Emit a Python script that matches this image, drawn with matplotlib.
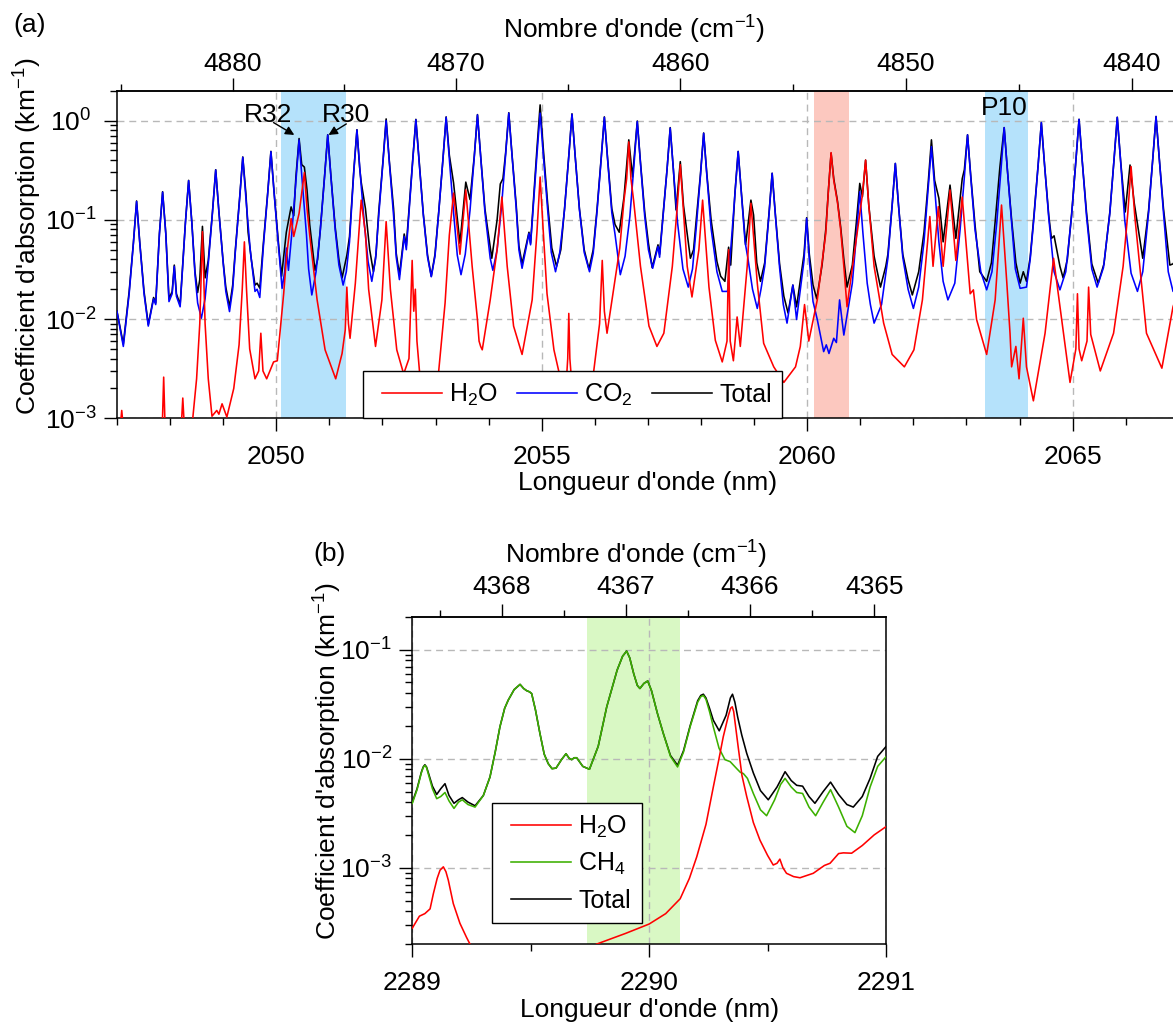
import numpy as np
import matplotlib
matplotlib.use("Agg")
import matplotlib.pyplot as plt
from matplotlib.ticker import FixedLocator, NullFormatter, LogLocator, FormatStrFormatter
from matplotlib.legend_handler import HandlerLine2D

plt.rcParams['font.family'] = ['Liberation Sans', 'DejaVu Sans']
plt.rcParams['mathtext.fontset'] = 'custom'
plt.rcParams['mathtext.rm'] = 'Liberation Sans'
plt.rcParams['mathtext.it'] = 'Liberation Sans:italic'
plt.rcParams['mathtext.bf'] = 'Liberation Sans:bold'
plt.rcParams['mathtext.default'] = 'regular'
plt.rcParams['font.size'] = 19
plt.rcParams['axes.linewidth'] = 1.1

# ---------------- panel (a): 2047-2067 nm, (wavelength nm, km-1) ----------------
h2o_a = [
    (2047.00, 0.0006), (2047.06, 0.0008), (2047.09, 0.0012), (2047.12, 0.0008), (2047.20, 0.0005),
    (2047.60, 0.0004), (2047.85, 0.0007), (2047.88, 0.0026), (2047.91, 0.0007), (2048.10, 0.0005),
    (2048.21, 0.0008), (2048.24, 0.0016), (2048.27, 0.0008), (2048.40, 0.0007), (2048.50, 0.0025),
    (2048.56, 0.009), (2048.61, 0.076), (2048.66, 0.009), (2048.72, 0.0025), (2048.79, 0.00105),
    (2048.88, 0.0012), (2048.92, 0.0011), (2048.98, 0.0014), (2049.07, 0.00103), (2049.20, 0.002),
    (2049.30, 0.0055), (2049.36, 0.02), (2049.40, 0.06), (2049.44, 0.02), (2049.50, 0.005),
    (2049.60, 0.0025), (2049.67, 0.003), (2049.71, 0.0072), (2049.75, 0.003), (2049.82, 0.0025),
    (2049.95, 0.0037), (2050.02, 0.0038), (2050.14, 0.018), (2050.20, 0.046), (2050.28, 0.103),
    (2050.33, 0.068), (2050.43, 0.116), (2050.53, 0.30), (2050.58, 0.13), (2050.63, 0.07),
    (2050.77, 0.0156), (2050.92, 0.0049), (2051.12, 0.0025), (2051.24, 0.0045), (2051.30, 0.0078),
    (2051.33, 0.021), (2051.36, 0.009), (2051.39, 0.0064), (2051.49, 0.023), (2051.60, 0.158),
    (2051.68, 0.073), (2051.74, 0.02), (2051.87, 0.0053), (2051.99, 0.0156), (2052.07, 0.096),
    (2052.15, 0.02), (2052.27, 0.0049), (2052.40, 0.0028), (2052.50, 0.004), (2052.56, 0.039),
    (2052.59, 0.012), (2052.62, 0.02), (2052.65, 0.006), (2052.71, 0.0025), (2052.90, 0.0018),
    (2053.06, 0.003), (2053.18, 0.0145), (2053.26, 0.07), (2053.34, 0.186), (2053.46, 0.045),
    (2053.57, 0.2), (2053.69, 0.034), (2053.79, 0.0098), (2053.82, 0.006), (2053.85, 0.0053),
    (2053.88, 0.0049), (2054.03, 0.0156), (2054.16, 0.05), (2054.25, 0.17), (2054.35, 0.034),
    (2054.47, 0.0085), (2054.63, 0.0044), (2054.82, 0.0156), (2054.91, 0.075), (2054.97, 0.27),
    (2055.03, 0.075), (2055.10, 0.018), (2055.23, 0.0049), (2055.32, 0.003), (2055.46, 0.0022),
    (2055.49, 0.004), (2055.51, 0.0114), (2055.53, 0.004), (2055.58, 0.0018), (2055.75, 0.0013),
    (2055.98, 0.003), (2056.09, 0.009), (2056.14, 0.039), (2056.18, 0.012), (2056.23, 0.0072),
    (2056.36, 0.021), (2056.47, 0.052), (2056.55, 0.158), (2056.60, 0.26), (2056.64, 0.61),
    (2056.68, 0.26), (2056.73, 0.158), (2056.86, 0.034), (2057.02, 0.0085), (2057.17, 0.0053),
    (2057.30, 0.0072), (2057.46, 0.034), (2057.55, 0.13), (2057.61, 0.36), (2057.67, 0.12),
    (2057.74, 0.034), (2057.83, 0.0167), (2057.96, 0.05), (2058.03, 0.158), (2058.15, 0.021),
    (2058.27, 0.0061), (2058.40, 0.0037), (2058.49, 0.006), (2058.52, 0.05), (2058.55, 0.006),
    (2058.61, 0.0038), (2058.68, 0.0105), (2058.74, 0.0053), (2058.87, 0.034), (2058.94, 0.147),
    (2059.06, 0.023), (2059.18, 0.0057), (2059.37, 0.0033), (2059.56, 0.0023), (2059.78, 0.0033),
    (2059.87, 0.0053), (2059.95, 0.014), (2060.03, 0.006), (2060.19, 0.0156), (2060.35, 0.073),
    (2060.40, 0.2), (2060.45, 0.476), (2060.50, 0.25), (2060.57, 0.15), (2060.63, 0.08),
    (2060.69, 0.034), (2060.75, 0.0133), (2060.94, 0.073), (2061.04, 0.18), (2061.10, 0.40),
    (2061.16, 0.14), (2061.26, 0.034), (2061.44, 0.0091), (2061.60, 0.0044), (2061.83, 0.0033),
    (2062.01, 0.0049), (2062.17, 0.0156), (2062.31, 0.108), (2062.37, 0.034), (2062.47, 0.136),
    (2062.56, 0.034), (2062.69, 0.2), (2062.80, 0.039), (2062.92, 0.17), (2063.07, 0.018),
    (2063.13, 0.0197), (2063.19, 0.0099), (2063.38, 0.0044), (2063.54, 0.0156), (2063.66, 0.141),
    (2063.76, 0.023), (2063.82, 0.0072), (2063.85, 0.0033), (2063.93, 0.0053), (2063.99, 0.0025),
    (2064.07, 0.0102), (2064.13, 0.0033), (2064.26, 0.0015), (2064.48, 0.0072), (2064.64, 0.041),
    (2064.77, 0.0123), (2064.95, 0.0023), (2065.06, 0.005), (2065.09, 0.018), (2065.12, 0.005),
    (2065.17, 0.0038), (2065.27, 0.006), (2065.30, 0.021), (2065.34, 0.007), (2065.52, 0.003),
    (2065.77, 0.0072), (2065.95, 0.034), (2066.04, 0.12), (2066.10, 0.344), (2066.17, 0.108),
    (2066.39, 0.0072), (2066.68, 0.0032), (2066.89, 0.0133), (2067.00, 0.02),
]

co2_a = [
    (2047.00, 0.012), (2047.12, 0.0053), (2047.23, 0.018), (2047.31, 0.058), (2047.37, 0.153),
    (2047.43, 0.058), (2047.51, 0.018), (2047.59, 0.0085), (2047.69, 0.016), (2047.73, 0.014),
    (2047.80, 0.072), (2047.86, 0.19), (2047.92, 0.072), (2047.98, 0.015), (2048.04, 0.018),
    (2048.08, 0.034), (2048.12, 0.017), (2048.19, 0.0133), (2048.29, 0.094), (2048.35, 0.248),
    (2048.41, 0.094), (2048.47, 0.028), (2048.52, 0.0145), (2048.59, 0.0102), (2048.66, 0.016),
    (2048.72, 0.036), (2048.80, 0.12), (2048.86, 0.318), (2048.92, 0.12), (2049.00, 0.037),
    (2049.05, 0.019), (2049.12, 0.0119), (2049.18, 0.02), (2049.23, 0.048), (2049.31, 0.162),
    (2049.37, 0.427), (2049.43, 0.162), (2049.51, 0.05), (2049.60, 0.019), (2049.64, 0.020),
    (2049.69, 0.0165), (2049.76, 0.056), (2049.84, 0.185), (2049.90, 0.487), (2049.96, 0.185),
    (2050.04, 0.056), (2050.11, 0.0204), (2050.16, 0.03), (2050.19, 0.052), (2050.23, 0.031),
    (2050.29, 0.07), (2050.37, 0.242), (2050.43, 0.638), (2050.49, 0.242), (2050.57, 0.07),
    (2050.61, 0.032), (2050.67, 0.0175), (2050.75, 0.03), (2050.83, 0.078), (2050.91, 0.27),
    (2050.97, 0.717), (2051.03, 0.27), (2051.11, 0.08), (2051.18, 0.035), (2051.26, 0.022),
    (2051.32, 0.03), (2051.38, 0.06), (2051.46, 0.3), (2051.52, 0.805), (2051.58, 0.3),
    (2051.66, 0.09), (2051.73, 0.038), (2051.80, 0.024), (2051.87, 0.04), (2051.93, 0.11),
    (2052.01, 0.38), (2052.07, 1.0), (2052.13, 0.38), (2052.21, 0.11), (2052.26, 0.042),
    (2052.32, 0.025), (2052.41, 0.068), (2052.45, 0.05), (2052.57, 0.39), (2052.63, 1.02),
    (2052.69, 0.39), (2052.77, 0.112), (2052.85, 0.042), (2052.92, 0.0267), (2052.99, 0.043),
    (2053.06, 0.118), (2053.14, 0.41), (2053.20, 1.08), (2053.26, 0.41), (2053.34, 0.118),
    (2053.41, 0.044), (2053.48, 0.028), (2053.56, 0.045), (2053.65, 0.125), (2053.73, 0.43),
    (2053.79, 1.14), (2053.85, 0.43), (2053.93, 0.12), (2054.03, 0.041), (2054.08, 0.031),
    (2054.16, 0.05), (2054.24, 0.13), (2054.32, 0.45), (2054.38, 1.19), (2054.44, 0.45),
    (2054.52, 0.13), (2054.57, 0.05), (2054.63, 0.0325), (2054.76, 0.073), (2054.79, 0.056),
    (2054.91, 0.45), (2054.97, 1.19), (2055.03, 0.45), (2055.11, 0.13), (2055.18, 0.047),
    (2055.26, 0.03), (2055.34, 0.047), (2055.43, 0.127), (2055.51, 0.44), (2055.57, 1.16),
    (2055.63, 0.44), (2055.71, 0.127), (2055.80, 0.047), (2055.90, 0.03), (2055.97, 0.046),
    (2056.04, 0.118), (2056.12, 0.41), (2056.18, 1.08), (2056.24, 0.41), (2056.32, 0.118),
    (2056.38, 0.072), (2056.48, 0.028), (2056.57, 0.043), (2056.66, 0.108), (2056.74, 0.37),
    (2056.80, 0.98), (2056.86, 0.37), (2056.94, 0.108), (2057.01, 0.05), (2057.09, 0.0325),
    (2057.19, 0.054), (2057.22, 0.042), (2057.36, 0.32), (2057.42, 0.84), (2057.48, 0.32),
    (2057.56, 0.092), (2057.66, 0.032), (2057.76, 0.021), (2057.84, 0.032), (2057.91, 0.083),
    (2057.99, 0.28), (2058.05, 0.745), (2058.11, 0.28), (2058.19, 0.082), (2058.30, 0.03),
    (2058.40, 0.019), (2058.50, 0.019), (2058.64, 0.185), (2058.70, 0.487), (2058.76, 0.185),
    (2058.83, 0.06), (2058.88, 0.042), (2058.97, 0.02), (2059.06, 0.0128), (2059.13, 0.02),
    (2059.20, 0.034), (2059.28, 0.112), (2059.34, 0.294), (2059.40, 0.112), (2059.48, 0.033),
    (2059.55, 0.014), (2059.62, 0.0091), (2059.73, 0.022), (2059.80, 0.0099), (2059.94, 0.039),
    (2059.99, 0.1035), (2060.04, 0.039), (2060.11, 0.015), (2060.19, 0.0099), (2060.31, 0.0047),
    (2060.36, 0.0055), (2060.41, 0.0045), (2060.50, 0.0064), (2060.55, 0.0058), (2060.61, 0.0156),
    (2060.69, 0.0069), (2060.85, 0.023), (2060.93, 0.073), (2060.99, 0.192), (2061.05, 0.073),
    (2061.13, 0.023), (2061.19, 0.014), (2061.26, 0.0091), (2061.40, 0.014), (2061.52, 0.041),
    (2061.60, 0.14), (2061.66, 0.37), (2061.72, 0.14), (2061.80, 0.042), (2061.90, 0.02),
    (2062.00, 0.0128), (2062.10, 0.021), (2062.20, 0.06), (2062.28, 0.21), (2062.34, 0.547),
    (2062.40, 0.21), (2062.48, 0.06), (2062.56, 0.024), (2062.65, 0.0156), (2062.78, 0.023),
    (2062.88, 0.08), (2062.96, 0.27), (2063.02, 0.717), (2063.08, 0.27), (2063.16, 0.08),
    (2063.27, 0.03), (2063.38, 0.0197), (2063.48, 0.03), (2063.57, 0.093), (2063.65, 0.32),
    (2063.71, 0.85), (2063.77, 0.32), (2063.85, 0.093), (2063.92, 0.032), (2064.01, 0.0204),
    (2064.13, 0.021), (2064.20, 0.04), (2064.27, 0.104), (2064.35, 0.36), (2064.41, 0.955),
    (2064.47, 0.36), (2064.55, 0.104), (2064.65, 0.03), (2064.76, 0.0197), (2064.87, 0.03),
    (2064.98, 0.11), (2065.06, 0.39), (2065.12, 1.03), (2065.18, 0.39), (2065.26, 0.11),
    (2065.36, 0.032), (2065.46, 0.021), (2065.58, 0.033), (2065.70, 0.116), (2065.78, 0.41),
    (2065.84, 1.08), (2065.90, 0.41), (2065.98, 0.1), (2066.10, 0.029), (2066.22, 0.019),
    (2066.32, 0.03), (2066.43, 0.118), (2066.51, 0.42), (2066.57, 1.1), (2066.63, 0.42),
    (2066.71, 0.118), (2066.80, 0.03), (2066.89, 0.019), (2067.00, 0.022),
]

total_a = [
    (2047.00, 0.012), (2047.12, 0.0056), (2047.23, 0.019), (2047.31, 0.059), (2047.37, 0.155),
    (2047.43, 0.059), (2047.51, 0.019), (2047.59, 0.0088), (2047.69, 0.0165), (2047.73, 0.0145),
    (2047.80, 0.073), (2047.86, 0.192), (2047.92, 0.073), (2047.98, 0.016), (2048.04, 0.019),
    (2048.08, 0.035), (2048.12, 0.018), (2048.19, 0.014), (2048.29, 0.095), (2048.35, 0.25),
    (2048.41, 0.095), (2048.47, 0.03), (2048.52, 0.0185), (2048.56, 0.025), (2048.61, 0.086),
    (2048.66, 0.026), (2048.72, 0.039), (2048.80, 0.122), (2048.86, 0.32), (2048.92, 0.122),
    (2049.00, 0.038), (2049.05, 0.021), (2049.12, 0.0133), (2049.18, 0.022), (2049.23, 0.05),
    (2049.31, 0.165), (2049.37, 0.43), (2049.43, 0.18), (2049.47, 0.075), (2049.53, 0.04),
    (2049.60, 0.022), (2049.64, 0.023), (2049.69, 0.0205), (2049.76, 0.06), (2049.84, 0.19),
    (2049.90, 0.49), (2049.96, 0.19), (2050.04, 0.06), (2050.10, 0.027), (2050.19, 0.075),
    (2050.28, 0.135), (2050.33, 0.11), (2050.37, 0.27), (2050.43, 0.66), (2050.48, 0.36),
    (2050.53, 0.34), (2050.58, 0.2), (2050.63, 0.09), (2050.73, 0.031), (2050.78, 0.04),
    (2050.83, 0.08), (2050.91, 0.275), (2050.97, 0.72), (2051.03, 0.275), (2051.11, 0.085),
    (2051.18, 0.04), (2051.24, 0.026), (2051.33, 0.044), (2051.38, 0.068), (2051.46, 0.31),
    (2051.52, 0.81), (2051.57, 0.34), (2051.60, 0.24), (2051.68, 0.13), (2051.76, 0.05),
    (2051.83, 0.03), (2051.88, 0.045), (2051.93, 0.12), (2052.01, 0.39), (2052.07, 1.04),
    (2052.13, 0.39), (2052.21, 0.13), (2052.26, 0.046), (2052.32, 0.028), (2052.41, 0.072),
    (2052.45, 0.055), (2052.57, 0.4), (2052.63, 1.03), (2052.69, 0.4), (2052.77, 0.115),
    (2052.85, 0.044), (2052.92, 0.027), (2052.99, 0.045), (2053.06, 0.12), (2053.14, 0.41),
    (2053.20, 1.09), (2053.26, 0.45), (2053.34, 0.235), (2053.46, 0.058), (2053.57, 0.24),
    (2053.65, 0.16), (2053.73, 0.44), (2053.79, 1.15), (2053.85, 0.44), (2053.93, 0.13),
    (2053.97, 0.09), (2054.06, 0.041), (2054.16, 0.1), (2054.22, 0.23), (2054.27, 0.26),
    (2054.32, 0.47), (2054.38, 1.2), (2054.44, 0.46), (2054.52, 0.14), (2054.57, 0.055),
    (2054.63, 0.036), (2054.76, 0.075), (2054.79, 0.058), (2054.91, 0.52), (2054.97, 1.44),
    (2055.03, 0.52), (2055.11, 0.15), (2055.19, 0.052), (2055.28, 0.034), (2055.36, 0.05),
    (2055.43, 0.13), (2055.51, 0.44), (2055.57, 1.17), (2055.63, 0.44), (2055.71, 0.13),
    (2055.80, 0.05), (2055.89, 0.032), (2055.97, 0.05), (2056.04, 0.125), (2056.12, 0.42),
    (2056.18, 1.09), (2056.24, 0.42), (2056.32, 0.13), (2056.38, 0.09), (2056.46, 0.075),
    (2056.55, 0.17), (2056.64, 0.64), (2056.71, 0.27), (2056.80, 0.99), (2056.86, 0.38),
    (2056.94, 0.12), (2057.01, 0.058), (2057.08, 0.033), (2057.19, 0.056), (2057.22, 0.045),
    (2057.36, 0.32), (2057.42, 0.85), (2057.48, 0.32), (2057.53, 0.126), (2057.61, 0.386),
    (2057.67, 0.14), (2057.80, 0.041), (2057.86, 0.05), (2057.91, 0.1), (2057.99, 0.29),
    (2058.05, 0.75), (2058.11, 0.29), (2058.19, 0.1), (2058.30, 0.038), (2058.37, 0.027),
    (2058.45, 0.024), (2058.52, 0.053), (2058.56, 0.035), (2058.64, 0.19), (2058.70, 0.49),
    (2058.76, 0.19), (2058.84, 0.056), (2058.94, 0.158), (2058.99, 0.112), (2059.05, 0.037),
    (2059.12, 0.024), (2059.20, 0.037), (2059.28, 0.115), (2059.34, 0.295), (2059.40, 0.115),
    (2059.48, 0.036), (2059.56, 0.017), (2059.64, 0.0115), (2059.73, 0.022), (2059.80, 0.0133),
    (2059.94, 0.045), (2059.99, 0.105), (2060.04, 0.045), (2060.11, 0.022), (2060.18, 0.016),
    (2060.28, 0.035), (2060.35, 0.08), (2060.40, 0.2), (2060.45, 0.47), (2060.50, 0.26),
    (2060.57, 0.155), (2060.63, 0.085), (2060.69, 0.04), (2060.75, 0.021), (2060.85, 0.035),
    (2060.93, 0.1), (2060.99, 0.233), (2061.04, 0.171), (2061.10, 0.40), (2061.16, 0.14),
    (2061.26, 0.043), (2061.38, 0.021), (2061.48, 0.034), (2061.52, 0.045), (2061.60, 0.14),
    (2061.66, 0.37), (2061.72, 0.14), (2061.80, 0.045), (2061.90, 0.025), (2061.98, 0.0175),
    (2062.10, 0.03), (2062.20, 0.075), (2062.28, 0.24), (2062.34, 0.64), (2062.40, 0.25),
    (2062.48, 0.165), (2062.56, 0.06), (2062.69, 0.224), (2062.80, 0.065), (2062.92, 0.26),
    (2062.96, 0.32), (2063.02, 0.72), (2063.08, 0.28), (2063.16, 0.09), (2063.25, 0.03),
    (2063.38, 0.024), (2063.47, 0.037), (2063.55, 0.11), (2063.63, 0.344), (2063.71, 0.85),
    (2063.77, 0.32), (2063.85, 0.1), (2063.93, 0.037), (2064.01, 0.023), (2064.07, 0.03),
    (2064.13, 0.024), (2064.20, 0.042), (2064.27, 0.11), (2064.35, 0.36), (2064.41, 0.955),
    (2064.47, 0.36), (2064.55, 0.11), (2064.60, 0.065), (2064.65, 0.069), (2064.76, 0.034),
    (2064.82, 0.026), (2064.90, 0.04), (2064.98, 0.115), (2065.06, 0.39), (2065.12, 1.03),
    (2065.18, 0.39), (2065.26, 0.12), (2065.36, 0.036), (2065.48, 0.023), (2065.59, 0.036),
    (2065.70, 0.12), (2065.78, 0.41), (2065.84, 1.08), (2065.90, 0.41), (2065.99, 0.12),
    (2066.08, 0.357), (2066.16, 0.147), (2066.32, 0.041), (2066.43, 0.125), (2066.51, 0.42),
    (2066.57, 1.1), (2066.63, 0.42), (2066.71, 0.13), (2066.83, 0.035), (2066.89, 0.036),
    (2067.00, 0.045),
]

# ---------------- panel (b): 2289-2291 nm ----------------
h2o_b = [
    (2289.000, 0.00028), (2289.030, 0.00036), (2289.053, 0.00038), (2289.075, 0.00042),
    (2289.089, 0.00058), (2289.105, 0.00080), (2289.117, 0.00095), (2289.131, 0.00102),
    (2289.142, 0.00092), (2289.152, 0.00077), (2289.173, 0.00047), (2289.201, 0.00031),
    (2289.229, 0.00023), (2289.260, 0.00017), (2289.500, 0.00012), (2289.700, 0.00016),
    (2289.779, 0.0002), (2289.900, 0.00025), (2290.000, 0.000305), (2290.070, 0.00038),
    (2290.131, 0.00052), (2290.170, 0.0008), (2290.201, 0.00126), (2290.240, 0.0025),
    (2290.271, 0.0055), (2290.295, 0.010), (2290.313, 0.0159), (2290.335, 0.025),
    (2290.344, 0.0290), (2290.351, 0.0299), (2290.357, 0.027), (2290.366, 0.019),
    (2290.376, 0.0128), (2290.392, 0.007), (2290.412, 0.0045), (2290.440, 0.0026),
    (2290.468, 0.00179), (2290.500, 0.0013), (2290.524, 0.00106), (2290.540, 0.0011),
    (2290.552, 0.0012), (2290.565, 0.001), (2290.580, 0.00089), (2290.610, 0.00083),
    (2290.637, 0.00081), (2290.693, 0.00089), (2290.740, 0.00105), (2290.764, 0.0011),
    (2290.800, 0.00135), (2290.820, 0.00137), (2290.855, 0.00136), (2290.900, 0.0016),
    (2290.950, 0.002), (2291.000, 0.00238),
]

ch4_b = [
    (2289.000, 0.0039), (2289.020, 0.0052), (2289.038, 0.0074), (2289.046, 0.0083),
    (2289.053, 0.0087), (2289.060, 0.0083), (2289.068, 0.0072), (2289.085, 0.0053),
    (2289.103, 0.0043), (2289.120, 0.0045), (2289.138, 0.0049), (2289.155, 0.0041),
    (2289.176, 0.0035), (2289.195, 0.0040), (2289.211, 0.0042), (2289.235, 0.0038),
    (2289.265, 0.0036), (2289.300, 0.0046), (2289.328, 0.0068), (2289.350, 0.0115),
    (2289.370, 0.0196), (2289.390, 0.029), (2289.405, 0.0344), (2289.430, 0.043),
    (2289.455, 0.048), (2289.470, 0.044), (2289.483, 0.042), (2289.495, 0.041),
    (2289.504, 0.0395), (2289.520, 0.028), (2289.539, 0.017), (2289.557, 0.011),
    (2289.574, 0.009), (2289.590, 0.0081), (2289.607, 0.0082), (2289.630, 0.0098),
    (2289.649, 0.0111), (2289.662, 0.0101), (2289.673, 0.0098), (2289.684, 0.0102),
    (2289.694, 0.0102), (2289.720, 0.0085), (2289.748, 0.0080), (2289.785, 0.0130),
    (2289.821, 0.0299), (2289.865, 0.065), (2289.888, 0.087), (2289.905, 0.097),
    (2289.918, 0.084), (2289.935, 0.060), (2289.950, 0.047), (2289.961, 0.044),
    (2289.978, 0.049), (2289.994, 0.0516), (2290.010, 0.042), (2290.035, 0.026),
    (2290.060, 0.017), (2290.090, 0.0105), (2290.120, 0.0084), (2290.145, 0.0115),
    (2290.173, 0.0196), (2290.205, 0.033), (2290.218, 0.037), (2290.229, 0.038),
    (2290.240, 0.035), (2290.255, 0.027), (2290.271, 0.0196), (2290.295, 0.0125),
    (2290.320, 0.0098), (2290.342, 0.0094), (2290.370, 0.0081), (2290.385, 0.0075),
    (2290.398, 0.0073), (2290.415, 0.0066), (2290.440, 0.0048), (2290.470, 0.0034),
    (2290.496, 0.0030), (2290.530, 0.0042), (2290.555, 0.0058), (2290.574, 0.0066),
    (2290.600, 0.0055), (2290.623, 0.0049), (2290.648, 0.0048), (2290.675, 0.0036),
    (2290.703, 0.0030), (2290.735, 0.0040), (2290.766, 0.0052), (2290.800, 0.0036),
    (2290.835, 0.0024), (2290.869, 0.0021), (2290.900, 0.0030), (2290.933, 0.0055),
    (2290.965, 0.0085), (2291.000, 0.0104),
]

total_b = [
    (2289.000, 0.0040), (2289.020, 0.0053), (2289.038, 0.0075), (2289.046, 0.0084),
    (2289.053, 0.0088), (2289.060, 0.0084), (2289.068, 0.0074), (2289.085, 0.0056),
    (2289.103, 0.0047), (2289.120, 0.0053), (2289.138, 0.0059), (2289.155, 0.0046),
    (2289.176, 0.0039), (2289.195, 0.0042), (2289.211, 0.0044), (2289.235, 0.0040),
    (2289.265, 0.0037), (2289.300, 0.0046), (2289.328, 0.0068), (2289.350, 0.0115),
    (2289.370, 0.0196), (2289.390, 0.029), (2289.405, 0.0344), (2289.430, 0.043),
    (2289.455, 0.048), (2289.470, 0.044), (2289.483, 0.042), (2289.495, 0.041),
    (2289.504, 0.0395), (2289.520, 0.028), (2289.539, 0.017), (2289.557, 0.011),
    (2289.574, 0.009), (2289.590, 0.0081), (2289.607, 0.0082), (2289.630, 0.0098),
    (2289.649, 0.0111), (2289.662, 0.0101), (2289.673, 0.0098), (2289.684, 0.0102),
    (2289.694, 0.0102), (2289.720, 0.0085), (2289.748, 0.0080), (2289.785, 0.0130),
    (2289.821, 0.0299), (2289.865, 0.065), (2289.888, 0.087), (2289.905, 0.097),
    (2289.918, 0.084), (2289.935, 0.060), (2289.950, 0.047), (2289.961, 0.044),
    (2289.978, 0.049), (2289.994, 0.0516), (2290.010, 0.042), (2290.035, 0.026),
    (2290.060, 0.017), (2290.090, 0.0107), (2290.120, 0.0087), (2290.145, 0.0118),
    (2290.173, 0.0200), (2290.205, 0.034), (2290.218, 0.038), (2290.229, 0.039),
    (2290.240, 0.036), (2290.255, 0.029), (2290.271, 0.0225), (2290.296, 0.018),
    (2290.325, 0.025), (2290.343, 0.036), (2290.352, 0.039), (2290.362, 0.033),
    (2290.374, 0.024), (2290.391, 0.0165), (2290.412, 0.0112), (2290.440, 0.0074),
    (2290.470, 0.0051), (2290.503, 0.0042), (2290.540, 0.0055), (2290.574, 0.0076),
    (2290.600, 0.0063), (2290.623, 0.0057), (2290.648, 0.0056), (2290.675, 0.0045),
    (2290.700, 0.0039), (2290.735, 0.0050), (2290.766, 0.0061), (2290.800, 0.0047),
    (2290.835, 0.0038), (2290.862, 0.0036), (2290.900, 0.0045), (2290.933, 0.0066),
    (2290.965, 0.0105), (2291.000, 0.0129),
]

# highlighted lines / windows (nm)
bands_a = [(2050.09, 2051.32), (2060.12, 2060.79), (2063.35, 2064.16)]
bands_b = [(2289.739, 2290.13)]

labels_a = ['H$_2$O', 'CO$_2$', 'Total']
labels_b = ['H$_2$O', 'CH$_4$', 'Total']

xticks_a = [2050, 2055, 2060, 2065]
wn_ticks_a = [4840, 4850, 4860, 4870, 4880]
xticks_b = [2289, 2290, 2291]
wn_ticks_b = [4365, 4366, 4367, 4368]
yticks_a = [1e-3, 1e-2, 1e-1, 1e0]
yticks_b = [1e-3, 1e-2, 1e-1]


def xy(points):
    arr = np.array(points)
    return arr[:, 0], arr[:, 1]


def nm_to_wn(x):
    x = np.asarray(x, dtype=float)
    with np.errstate(divide='ignore'):
        return 1e7 / x


def style_axes(ax, xlim, ylim, xticks, xminor, yticks, wn_ticks, wn_minor, xpad, tpad):
    ax.set_yscale('log')
    ax.set_xlim(*xlim)
    ax.set_ylim(*ylim)
    ax.set_xticks(xticks)
    ax.xaxis.set_minor_locator(FixedLocator(xminor))
    ax.set_yticks(yticks)
    ax.yaxis.set_minor_locator(LogLocator(base=10, subs=np.arange(2, 10), numticks=30))
    ax.yaxis.set_minor_formatter(NullFormatter())
    ax.tick_params(which='major', length=9.5, width=1.0, direction='out')
    ax.tick_params(which='minor', length=5, width=1.0, direction='out')
    ax.tick_params(axis='x', which='major', pad=xpad)
    ax.tick_params(axis='y', which='major', pad=23.6)
    for lab in ax.get_yticklabels():
        lab.set_horizontalalignment('center')
    ax.grid(True, which='major', color='#b8b8b8', ls=(0, (5, 3.5)), lw=1.0)
    sec = ax.secondary_xaxis('top', functions=(nm_to_wn, nm_to_wn))
    sec.set_xticks(wn_ticks)
    sec.xaxis.set_minor_locator(FixedLocator(wn_minor))
    sec.xaxis.set_major_formatter(FormatStrFormatter('%d'))
    sec.tick_params(which='major', length=9.5, width=1.0, direction='out', pad=tpad)
    sec.tick_params(which='minor', length=5, width=1.0, direction='out')
    return sec


def add_legend(ax, handles, labels, ncol, anchor):
    leg = ax.legend(handles, labels, ncol=ncol, loc='lower left', bbox_to_anchor=anchor,
                    borderaxespad=0, frameon=True, fancybox=False, edgecolor='black',
                    framealpha=1, fontsize=18, handlelength=2.74, handletextpad=0.3,
                    columnspacing=0.4, borderpad=0.42, labelspacing=0.45,
                    handler_map={h: HandlerLine2D(xpad=0.34) for h in handles})
    leg.get_frame().set_linewidth(1.0)
    return leg


fig = plt.figure(figsize=(11.73, 10.23), dpi=100)

# ---------------- (a) ----------------
ax = fig.add_axes([0.0997, 0.5911, 0.9053, 0.3202])
for lo, hi in bands_a[:1] + bands_a[2:]:
    ax.axvspan(lo, hi, color='#b5e2fb', lw=0, zorder=0)
ax.axvspan(*bands_a[1], color='#fcc8bf', lw=0, zorder=0)

lt, = ax.plot(*xy(total_a), color='black', lw=1.15, zorder=2)
lc, = ax.plot(*xy(co2_a), color='#0000ff', lw=1.15, zorder=3)
lh, = ax.plot(*xy(h2o_a), color='#ff0000', lw=1.15, zorder=4)

sec = style_axes(ax, (2047, 2067), (1e-3, 2.0), xticks_a, np.arange(2047, 2068, 1),
                 yticks_a, wn_ticks_a, np.arange(4840, 4886, 5), 9.5, 1.0)
ax.set_xlabel("Longueur d'onde (nm)")
ax.xaxis.set_label_coords(0.5, -0.161)
sec.set_xlabel("Nombre d'onde (cm$^{-1}$)")
sec.xaxis.set_label_coords(0.4873, 1.158, transform=ax.transAxes)
ax.set_ylabel("Coefficient d'absorption (km$^{-1}$)")
ax.yaxis.set_label_coords(-0.0687, 0.5565)

ax.text(2049.855, 0.97, 'R32', ha='center', va='baseline')
ax.text(2051.31, 0.977, 'R30', ha='center', va='baseline')
ax.text(2063.72, 1.14, 'P10', ha='center', va='baseline')
arrow = dict(arrowstyle='-|>', color='black', lw=1.0, mutation_scale=13, shrinkA=0, shrinkB=0)
ax.annotate('', xy=(2050.34, 0.717), xytext=(2049.95, 0.955), arrowprops=arrow)
ax.annotate('', xy=(2050.985, 0.717), xytext=(2051.32, 0.926), arrowprops=arrow)

add_legend(ax, [lh, lc, lt], labels_a, 3, (0.2317, 0.0))

# ---------------- (b) ----------------
bx = fig.add_axes([0.3515, 0.0772, 0.4038, 0.3199])
for lo, hi in bands_b:
    bx.axvspan(lo, hi, color='#d9f8c4', lw=0, zorder=0)

bt, = bx.plot(*xy(total_b), color='black', lw=1.15, zorder=2)
bm, = bx.plot(*xy(ch4_b), color='#3cb000', lw=1.15, zorder=3)
bh, = bx.plot(*xy(h2o_b), color='#ff0000', lw=1.15, zorder=4)

secb = style_axes(bx, (2289, 2291), (2e-4, 0.2), xticks_b, np.arange(2289, 2291.01, 0.5),
                  yticks_b, wn_ticks_b, np.arange(4364.5, 4368.6, 0.5), 10, 3.0)
bx.set_xlabel("Longueur d'onde (nm)")
bx.xaxis.set_label_coords(0.5, -0.165)
secb.set_xlabel("Nombre d'onde (cm$^{-1}$)")
secb.xaxis.set_label_coords(0.4722, 1.161, transform=bx.transAxes)
bx.set_ylabel("Coefficient d'absorption (km$^{-1}$)")
bx.yaxis.set_label_coords(-0.1441, 0.557)

add_legend(bx, [bh, bm, bt], labels_b, 1, (0.168, 0.064))

fig.text(0.011, 0.976, '(a)', ha='left', va='center')
fig.text(0.2668, 0.4585, '(b)', ha='left', va='center')

fig.savefig('out.png', dpi=100)
